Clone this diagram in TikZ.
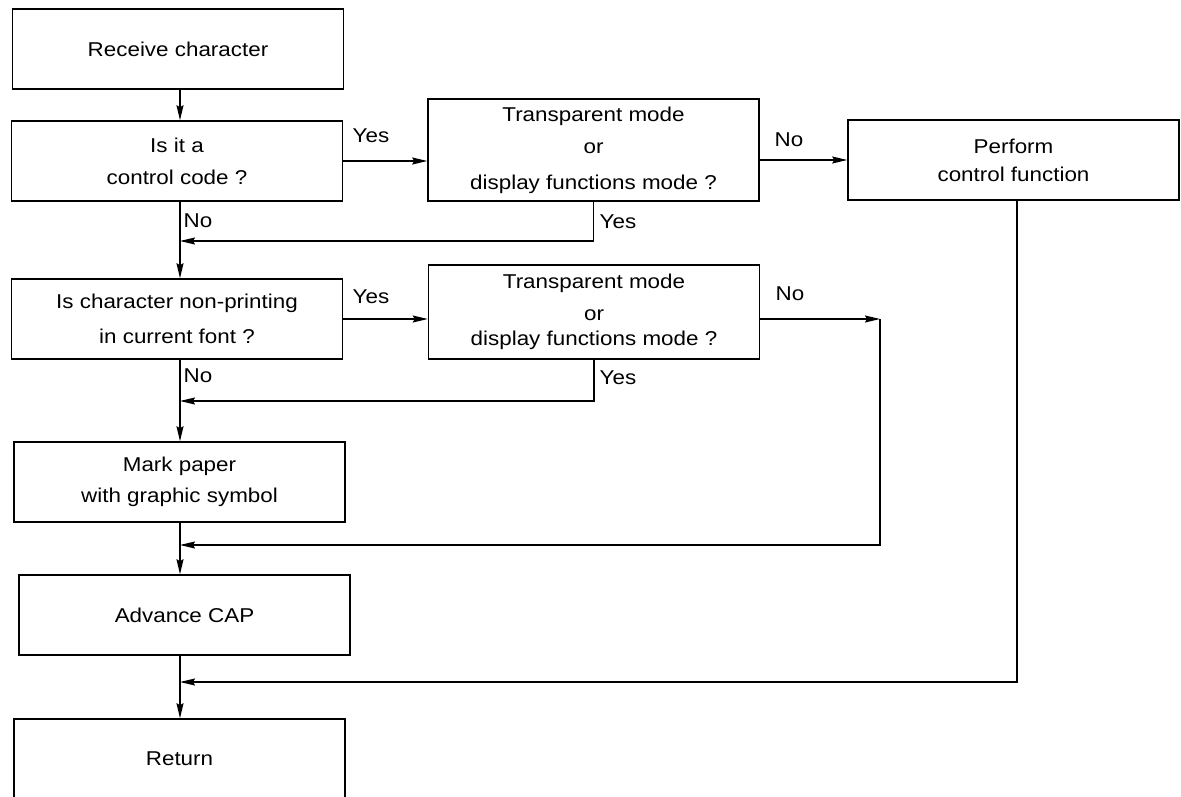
\documentclass[tikz,border=0pt]{standalone}
\usepackage{fontspec}
\setmainfont{Liberation Sans}[FakeStretch=1.12]
\usetikzlibrary{arrows.meta}
\begin{document}
\begin{tikzpicture}[x=1pt,y=-1pt,
  line width=1.5pt,
  box/.style={draw, rectangle, minimum width=331pt, inner sep=0pt, align=center,
    font=\fontsize{20}{32}\selectfont},
  lbl/.style={inner sep=0pt, font=\fontsize{20}{24}\selectfont},
  arr/.style={-{Stealth[length=15pt,width=7pt,inset=2pt]}}]
\useasboundingbox (0,0) rectangle (1181,797);
% boxes
\node[box, minimum height=80pt] (b1) at (178,49) {Receive character};
\node[box, minimum height=80pt] (b2) at (177,161) {Is it a\\control code ?};
\node[box, minimum height=102pt] (b3) at (593.5,150) {Transparent mode\\or\\[4pt]display functions mode ?};
\node[box, minimum height=80pt, font=\fontsize{20}{28}\selectfont] (b4) at (1013.5,160) {Perform\\control function};
\node[box, minimum height=80pt, font=\fontsize{20}{35}\selectfont] (b5) at (177,319) {Is character non-printing\\in current font ?};
\node[box, minimum height=94pt] (b6) at (594,312) {Transparent mode\\or\\[-7pt]display functions mode ?};
\node[box, minimum height=80pt, font=\fontsize{20}{31}\selectfont] (b7) at (179.5,482) {Mark paper\\with graphic symbol};
\node[box, minimum height=80pt] (b8) at (184.5,615) {Advance CAP};
\node[box, minimum height=80pt] (b9) at (179.5,759) {Return};
% coordinates
\coordinate (m) at (180,0);
\coordinate (j1) at (180,241);
\coordinate (j2) at (180,401);
\coordinate (j3) at (180,545);
\coordinate (j4) at (180,682);
\coordinate (c6) at (880,319);
\coordinate (c4) at (1017,200);
% labels
\node[lbl] (y1) at (371,136) {Yes};
\node[lbl] (n1) at (198,221) {No};
\node[lbl] (y2) at (618,222) {Yes};
\node[lbl] (n2) at (789,140) {No};
\node[lbl] (y3) at (371,297) {Yes};
\node[lbl] (n3) at (198,376) {No};
\node[lbl] (n4) at (790,294) {No};
\node[lbl] (y4) at (618,378) {Yes};
% connectors
\draw[arr] (b1.south -| m) -- (b2.north -| m);
\draw[arr] (b2.east) -- (b2.east -| b3.west);
\draw[arr] (b3.east |- b4.west) -- (b4.west);
\draw[arr] (b2.south -| m) -- (b5.north -| m);
\draw[arr] (b3.south) |- (j1);
\draw[arr] (b5.east) -- (b5.east -| b6.west);
\draw[arr] (b6.east |- c6) -- (c6);
\draw[arr] (c6) |- (j3);
\draw[arr] (b5.south -| m) -- (b7.north -| m);
\draw[arr] (b6.south) |- (j2);
\draw[arr] (b7.south -| m) -- (b8.north -| m);
\draw[arr] (b8.south -| m) -- (b9.north -| m);
\draw[arr] (b4.south -| c4) |- (j4);
\end{tikzpicture}
\end{document}
